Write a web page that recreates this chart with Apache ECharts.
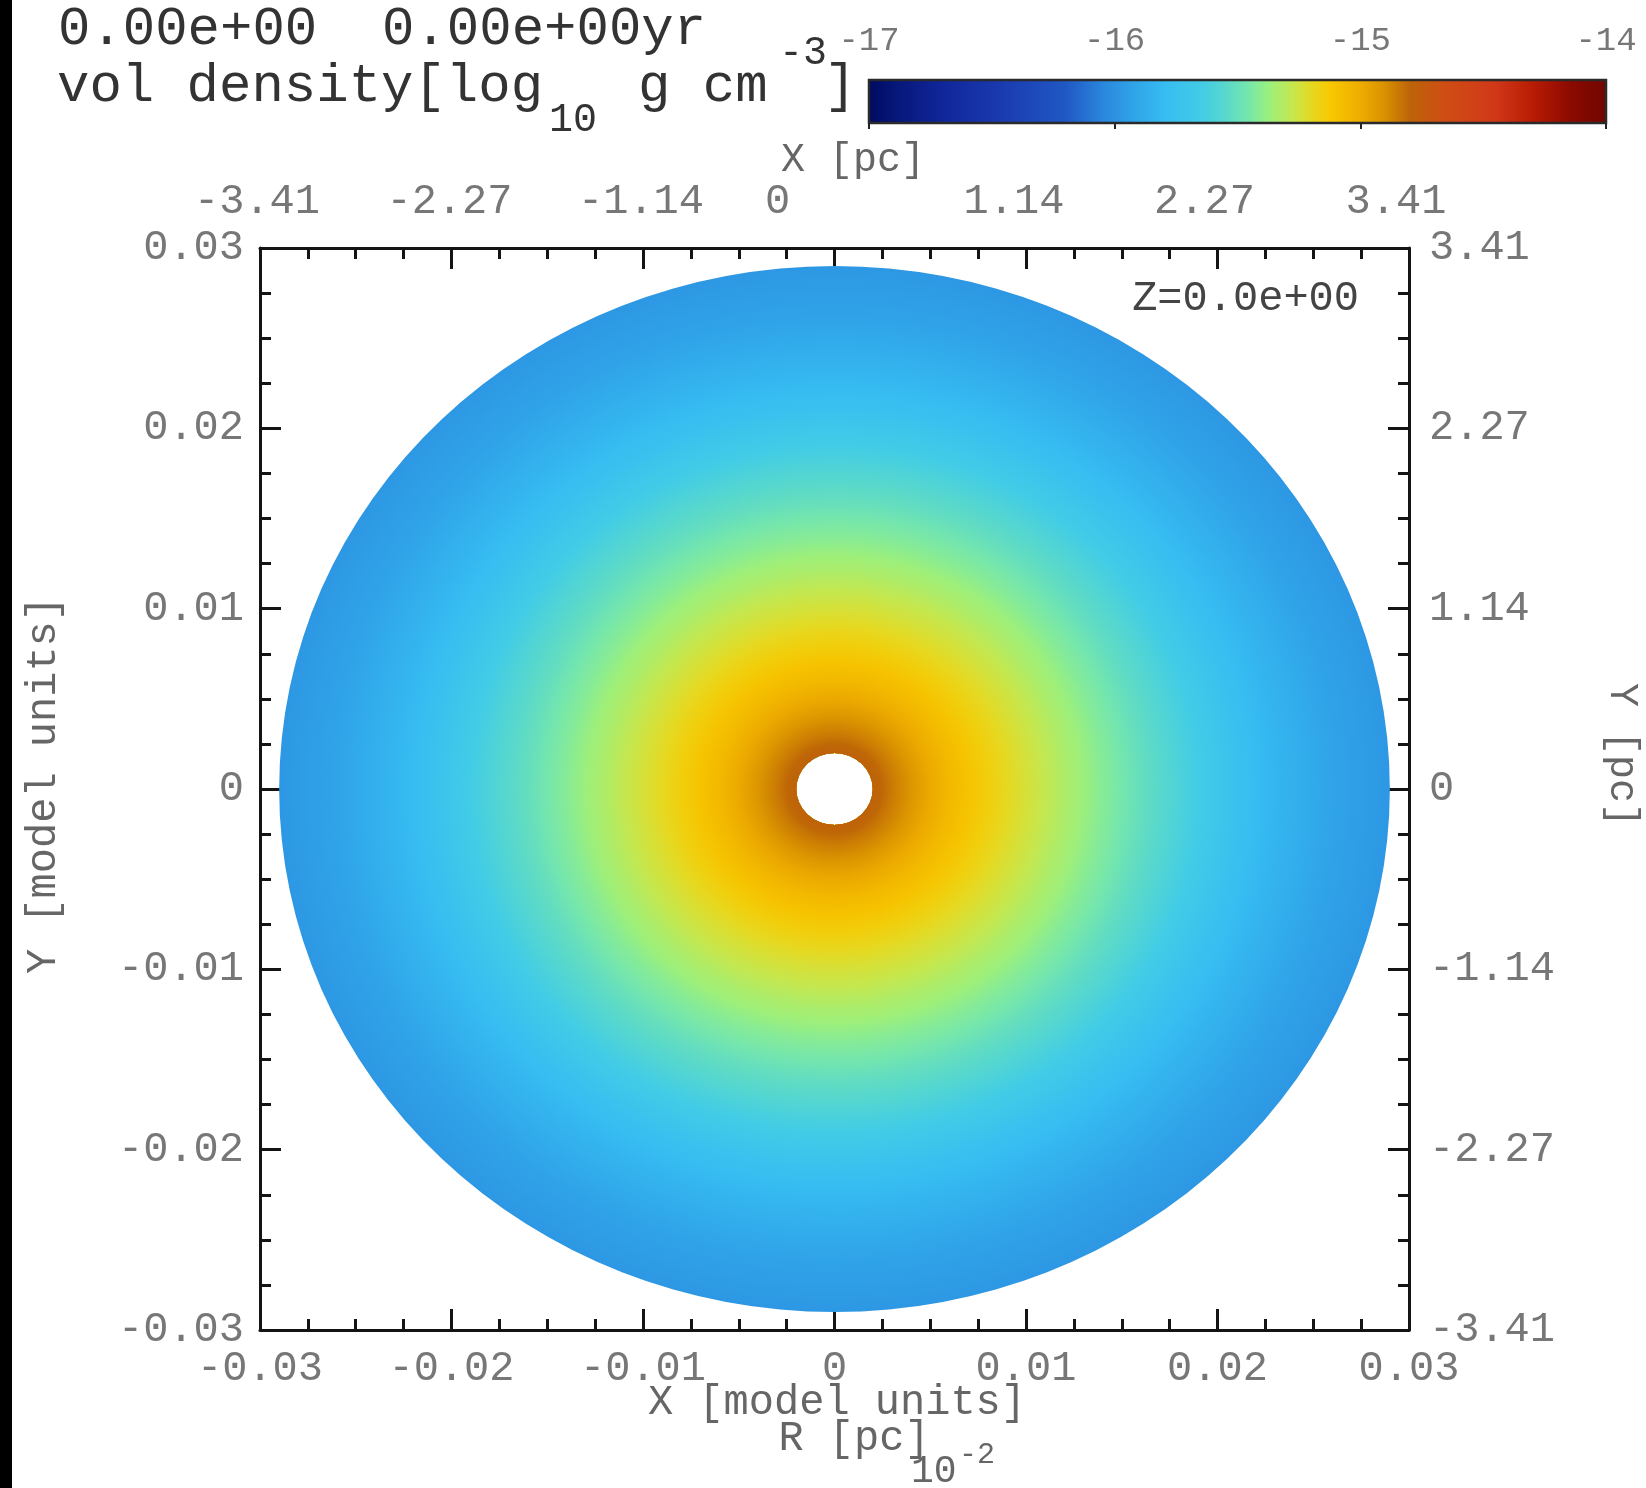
<!DOCTYPE html>
<html>
<head>
<meta charset="utf-8">
<script src="https://cdn.jsdelivr.net/npm/echarts@6/dist/echarts.min.js"></script>
<style>
  html, body { margin: 0; padding: 0; background: #fff; }
  #chart { width: 1646px; height: 1488px; }
</style>
</head>
<body>
<div id="chart"></div>
<script>
// Tick labels of the model-unit axes and of the parsec axes
const modelTicks = ['-0.03', '-0.02', '-0.01', '0', '0.01', '0.02', '0.03'];
const pcTicks = ['-3.41', '-2.27', '-1.14', '0', '1.14', '2.27', '3.41'];
const colorbarTicks = ['-17', '-16', '-15', '-14'];

// Radial density profile of the disk (model units, log10 g cm^-3)
const radii = [0.0020, 0.0025, 0.0030, 0.0040, 0.0050, 0.0060, 0.0070, 0.0080, 0.0090,
  0.0100, 0.0110, 0.0120, 0.0130, 0.0140, 0.0150, 0.0160, 0.0170, 0.0180, 0.0190,
  0.0200, 0.0210, 0.0220, 0.0230, 0.0240, 0.0250, 0.0260, 0.0270, 0.0280, 0.0290];
const logDensity = [-14.78, -14.81, -14.85, -14.92, -14.99, -15.05, -15.10, -15.15, -15.20,
  -15.24, -15.28, -15.33, -15.37, -15.42, -15.46, -15.51, -15.55, -15.60, -15.65,
  -15.70, -15.75, -15.79, -15.83, -15.86, -15.89, -15.92, -15.94, -15.96, -15.98];

// Colour table of the density scale
const cmapValues = [-17.00, -16.90, -16.70, -16.45, -16.20, -16.05, -15.95, -15.80, -15.65,
  -15.55, -15.45, -15.38, -15.28, -15.20, -15.12, -15.00, -14.90, -14.80, -14.65,
  -14.45, -14.30, -14.15, -14.00];
const cmapColors = ['#000a60', '#061678', '#10269a', '#1a3cb0', '#2058c4', '#2a86dc', '#2e9ee6',
  '#36bcf2', '#42cce6', '#58d8cc', '#78e8a8', '#98f080', '#c4e850', '#e6d820', '#f8c800',
  '#eeac00', '#d89000', '#bc6408', '#d04c14', '#d03818', '#b81c04', '#8c0a00', '#700600'];

// Per-label horizontal nudge of the upper parsec labels (px, negative = left)
const topLabelShift = [-3, -2, -2, -57, -12, -13, -13];

const MONO = '"Liberation Mono", "DejaVu Sans Mono", monospace';
const TICK_COLOR = '#777';
const AXIS_COLOR = '#141414';

function hexRgb(h) {
  return [parseInt(h.slice(1, 3), 16), parseInt(h.slice(3, 5), 16), parseInt(h.slice(5, 7), 16)];
}
function densityColor(v) {
  const n = cmapValues.length;
  if (v <= cmapValues[0]) return cmapColors[0];
  if (v >= cmapValues[n - 1]) return cmapColors[n - 1];
  let i = 0;
  while (i < n - 2 && v > cmapValues[i + 1]) i++;
  const t = (v - cmapValues[i]) / (cmapValues[i + 1] - cmapValues[i]);
  const a = hexRgb(cmapColors[i]), b = hexRgb(cmapColors[i + 1]);
  const c = a.map((x, k) => Math.round(x + (b[k] - x) * t));
  return 'rgb(' + c.join(',') + ')';
}

// Rings drawn outermost first so the inner ones sit on top
const ringData = [];
for (let i = radii.length - 2; i >= 0; i--) {
  ringData.push([radii[i], radii[i + 1], logDensity[i], logDensity[i + 1]]);
}

// Colour bar segments
const barData = [];
for (let i = 0; i < cmapValues.length - 1; i++) {
  barData.push([cmapValues[i], cmapValues[i + 1], i]);
}

function renderRing(params, api) {
  const c = api.coord([0, 0]);
  const rIn = api.value(0), rOut = api.value(1);
  const rxOut = api.coord([rOut, 0])[0] - c[0];
  const ryOut = c[1] - api.coord([0, rOut])[1];
  const rxIn = api.coord([rIn, 0])[0] - c[0];
  const rxHole = api.coord([radii[0], 0])[0] - c[0];
  return {
    type: 'ring',
    x: c[0], y: c[1],
    scaleY: ryOut / rxOut,
    shape: { cx: 0, cy: 0, r: rxOut, r0: rxHole },
    style: {
      fill: {
        type: 'radial', x: 0.5, y: 0.5, r: 0.5, global: false,
        colorStops: [
          { offset: rxIn / rxOut, color: densityColor(api.value(2)) },
          { offset: 1, color: densityColor(api.value(3)) }
        ]
      }
    },
    z2: params.dataIndex
  };
}

function renderBar(params, api) {
  const i = api.value(2);
  const p0 = api.coord([api.value(0), 1]);
  const p1 = api.coord([api.value(1), 0]);
  return {
    type: 'rect',
    shape: { x: p0[0], y: p0[1], width: p1[0] - p0[0] + 0.8, height: p1[1] - p0[1] },
    style: {
      fill: {
        type: 'linear', x: 0, y: 0, x2: 1, y2: 0,
        colorStops: [{ offset: 0, color: cmapColors[i] }, { offset: 1, color: cmapColors[i + 1] }]
      }
    }
  };
}

function renderBarFrame(params, api) {
  const p0 = api.coord([api.value(0), 1]);
  const p1 = api.coord([api.value(1), 0]);
  return {
    type: 'rect',
    shape: { x: p0[0], y: p0[1], width: p1[0] - p0[0], height: p1[1] - p0[1] },
    style: { fill: null, stroke: '#2a2a2a', lineWidth: 2.5 },
    z2: 10
  };
}

function mainAxis(extra) {
  return Object.assign({
    type: 'value', gridIndex: 0, min: -0.03, max: 0.03, interval: 0.01,
    axisLine: { show: true, onZero: false, lineStyle: { color: AXIS_COLOR, width: 3 } },
    axisTick: { show: true, inside: true, length: 21, lineStyle: { color: AXIS_COLOR, width: 3 } },
    minorTick: { show: true, splitNumber: 4, length: 11, lineStyle: { color: AXIS_COLOR, width: 3 } },
    splitLine: { show: false },
    minorSplitLine: { show: false }
  }, extra);
}

const labelFont = { fontFamily: MONO, fontSize: 42, color: TICK_COLOR };

const topRich = {};
topLabelShift.forEach((s, i) => {
  topRich['o' + i] = Object.assign({ padding: [0, -2 * s, 0, 0] }, labelFont);
});

const option = {
  animation: false,
  backgroundColor: '#ffffff',
  grid: [
    { left: 260, right: 237, top: 248, bottom: 158 },
    { left: 869, top: 80, width: 737, height: 43 }
  ],
  xAxis: [
    mainAxis({
      position: 'bottom',
      axisLabel: Object.assign({ margin: 18, showMinLabel: true, showMaxLabel: true,
        formatter: (v, i) => modelTicks[i] }, labelFont)
    }),
    mainAxis({
      position: 'top',
      axisLabel: Object.assign({ margin: 25, showMinLabel: true, showMaxLabel: true,
        formatter: (v, i) => '{o' + i + '|' + pcTicks[i] + '}', rich: topRich }, labelFont)
    }),
    {
      type: 'value', gridIndex: 1, position: 'top', min: -17, max: -14, interval: 1,
      axisLine: { show: false },
      axisTick: { show: true, inside: true, length: 6, lineStyle: { color: '#222', width: 2 } },
      splitLine: { show: false },
      axisLabel: { margin: 22, fontFamily: MONO, fontSize: 34, color: TICK_COLOR,
        showMinLabel: true, showMaxLabel: true, formatter: (v, i) => colorbarTicks[i] }
    }
  ],
  yAxis: [
    mainAxis({
      position: 'left',
      axisLabel: Object.assign({ margin: 16, showMinLabel: true, showMaxLabel: true,
        formatter: (v, i) => modelTicks[i] }, labelFont)
    }),
    mainAxis({
      position: 'right',
      axisLabel: Object.assign({ margin: 20, showMinLabel: true, showMaxLabel: true,
        formatter: (v, i) => pcTicks[i] }, labelFont)
    }),
    { type: 'value', gridIndex: 1, min: 0, max: 1, show: false }
  ],
  series: [
    {
      type: 'custom', name: 'vol density', coordinateSystem: 'cartesian2d',
      xAxisIndex: 0, yAxisIndex: 0, clip: false, silent: true,
      renderItem: renderRing, data: ringData, encode: { x: [0, 1], y: [0, 1] }
    },
    {
      type: 'custom', name: 'colour bar', coordinateSystem: 'cartesian2d',
      xAxisIndex: 2, yAxisIndex: 2, clip: false, silent: true,
      renderItem: renderBar, data: barData, encode: { x: [0, 1] }
    },
    {
      type: 'custom', name: 'colour bar frame', coordinateSystem: 'cartesian2d',
      xAxisIndex: 2, yAxisIndex: 2, clip: false, silent: true, z: 3,
      renderItem: renderBarFrame, data: [[-17, -14]], encode: { x: [0, 1] }
    }
  ],
  graphic: [
    { type: 'rect', left: 0, top: 0, shape: { width: 12, height: 1488 }, style: { fill: '#000' } },
    { type: 'text', x: 58, y: 30, style: { text: '0.00e+00  0.00e+00yr', font: '54px ' + MONO, fill: '#333', verticalAlign: 'middle' } },
    { type: 'text', x: 57, y: 87, style: { text: 'vol density[log', font: '54px ' + MONO, fill: '#333', verticalAlign: 'middle' } },
    { type: 'text', x: 549, y: 120, style: { text: '10', font: '40px ' + MONO, fill: '#333', verticalAlign: 'middle' } },
    { type: 'text', x: 638, y: 87, style: { text: 'g cm', font: '54px ' + MONO, fill: '#333', verticalAlign: 'middle' } },
    { type: 'text', x: 779, y: 53, style: { text: '-3', font: '40px ' + MONO, fill: '#333', verticalAlign: 'middle' } },
    { type: 'text', x: 824, y: 87, style: { text: ']', font: '54px ' + MONO, fill: '#333', verticalAlign: 'middle' } },
    { type: 'text', x: 853, y: 160, style: { text: 'X [pc]', font: '40px ' + MONO, fill: '#666', align: 'center', verticalAlign: 'middle' } },
    { type: 'text', x: 1359, y: 299, style: { text: 'Z=0.0e+00', font: '42px ' + MONO, fill: '#444', align: 'right', verticalAlign: 'middle' } },
    { type: 'text', x: 44, y: 785, rotation: Math.PI / 2, style: { text: 'Y [model units]', font: '42px ' + MONO, fill: '#666', align: 'center', verticalAlign: 'middle' } },
    { type: 'text', x: 1622, y: 755, rotation: -Math.PI / 2, style: { text: 'Y [pc]', font: '40px ' + MONO, fill: '#666', align: 'center', verticalAlign: 'middle' } },
    { type: 'text', x: 837, y: 1403, style: { text: 'X [model units]', font: '42px ' + MONO, fill: '#666', align: 'center', verticalAlign: 'middle' } },
    { type: 'text', x: 854, y: 1439, style: { text: 'R [pc]', font: '42px ' + MONO, fill: '#666', align: 'center', verticalAlign: 'middle' } },
    { type: 'text', x: 911, y: 1472, style: { text: '10', font: '38px ' + MONO, fill: '#666', verticalAlign: 'middle' } },
    { type: 'text', x: 959, y: 1455, style: { text: '-2', font: '30px ' + MONO, fill: '#666', verticalAlign: 'middle' } }
  ]
};

const chart = echarts.init(document.getElementById('chart'), null, { renderer: 'canvas' });
chart.setOption(option);
</script>
</body>
</html>
